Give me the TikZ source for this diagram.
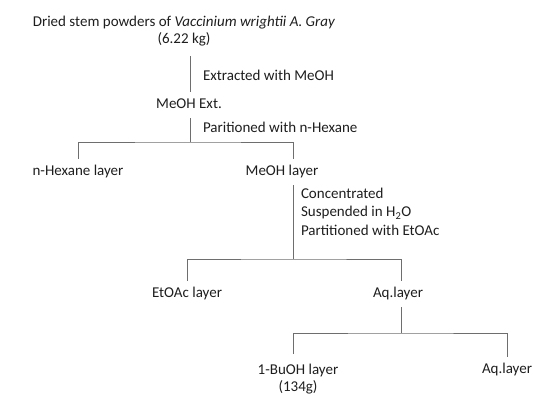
\documentclass[tikz,border=0pt]{standalone}
\usepackage{fontspec}
\setmainfont{Carlito}
\usetikzlibrary{positioning,calc}
\definecolor{ctext}{HTML}{1E1E1E}
\definecolor{cline}{HTML}{6E6E6E}
\tikzset{
  item/.style={font=\fontsize{15}{17.5}\selectfont, text=ctext, inner sep=0pt,
               outer xsep=0pt, outer ysep=10pt, align=center},
  layer/.style={item, text height=0.65em, text depth=0pt},
  note/.style={item, outer ysep=0pt, align=left, font=\fontsize{15}{18.5}\selectfont},
  ln/.style={draw=cline, line width=0.8pt}
}

\begin{document}
\begin{tikzpicture}[x=1pt,y=-1pt]
\useasboundingbox (0,0) rectangle (533,396);

\node[item, anchor=north] (raw) at (184,6)
 {Dried stem powders of \textit{Vaccinium wrightii A. Gray}\\(6.22 kg)};
\node[layer] (ext) at (189,105) {MeOH Ext.};
\node[layer] (hex) at (78,172) {n-Hexane layer};
\node[layer] (meo) at (282,172) {MeOH layer};
\node[layer] (eto) at (187,294) {EtOAc layer};
\node[layer] (aq1) at (398,294) {Aq.layer};
\node[item, anchor=north] (buo) at (298,354) {1-BuOH layer\\(134g)};
\node[layer] (aq2) at (507,370) {Aq.layer};

\node[note, anchor=west] (extnote) at (203,75) {Extracted with MeOH};
\node[note, anchor=west] (parnote) at (203,127) {Paritioned with n-Hexane};
\node[note, anchor=north west] (connote) at (301,188)
 {Concentrated\\Suspended in H\textsubscript{2}O\\Partitioned with EtOAc};

\coordinate (j1) at (190,142);
\coordinate (j2) at (293,259);
\coordinate (j3) at (401,333);

\draw[ln] (raw.south -| j1) -- (ext.north -| j1);
\draw[ln] (ext.south -| j1) -- (j1);
\draw[ln] (hex.north) |- (j1) -| (meo.north -| j2);
\draw[ln] (meo.south -| j2) -- (j2);
\draw[ln] (eto.north) |- (j2) -| (aq1.north -| j3);
\draw[ln] (aq1.south -| j3) -- (j3);
\draw[ln] (buo.north -| j2) |- (j3) -| (aq2.north);

\end{tikzpicture}
\end{document}
